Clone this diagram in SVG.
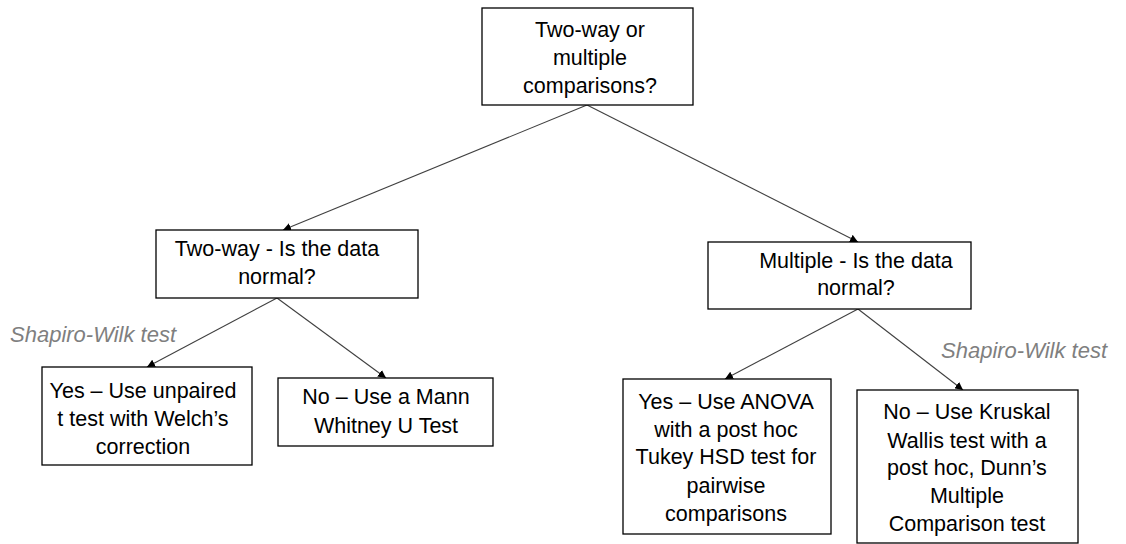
<svg xmlns="http://www.w3.org/2000/svg" width="1126" height="544" viewBox="0 0 1126 544">
<style>
.box{fill:#fff;stroke:#000;stroke-width:1.3}
.t{font-family:"Liberation Sans",Arial,sans-serif;font-size:21.5px;fill:#000;text-anchor:middle}
.lbl{font-family:"Liberation Sans",Arial,sans-serif;font-size:22px;font-style:italic;fill:#7f7f7f}
.c{stroke:#404040;stroke-width:1.1;fill:none;marker-end:url(#ah)}
</style>
<defs>
<marker id="ah" viewBox="0 0 10 10" refX="10" refY="5" markerWidth="8" markerHeight="8" markerUnits="userSpaceOnUse" orient="auto">
<path d="M0,0 L10,5 L0,10 z" fill="#000"/>
</marker>
</defs>
<rect width="1126" height="544" fill="#fff"/>
<g id="connectors">
<line class="c" x1="587" y1="105" x2="283" y2="230"/>
<line class="c" x1="587" y1="105" x2="858" y2="242"/>
<line class="c" x1="277" y1="298" x2="147" y2="367"/>
<line class="c" x1="277" y1="298" x2="386" y2="378"/>
<line class="c" x1="858" y1="309" x2="725" y2="379"/>
<line class="c" x1="858" y1="309" x2="963" y2="390"/>
</g>
<g id="root">
<rect class="box" x="482" y="8" width="211" height="97"/>
<text class="t" x="590" y="37">Two-way or</text>
<text class="t" x="590" y="65">multiple</text>
<text class="t" x="590" y="93">comparisons?</text>
</g>
<g id="twoway">
<rect class="box" x="156" y="230" width="262" height="68"/>
<text class="t" x="277" y="256">Two-way - Is the data</text>
<text class="t" x="277" y="284">normal?</text>
</g>
<g id="multiple">
<rect class="box" x="708" y="242" width="263" height="67"/>
<text class="t" x="856" y="268">Multiple - Is the data</text>
<text class="t" x="856" y="295">normal?</text>
</g>
<g id="label-left">
<text class="lbl" x="10" y="342">Shapiro-Wilk test</text>
</g>
<g id="label-right">
<text class="lbl" x="941" y="358">Shapiro-Wilk test</text>
</g>
<g id="yes-twoway">
<rect class="box" x="42" y="367" width="210" height="98"/>
<text class="t" x="143" y="398">Yes – Use unpaired</text>
<text class="t" x="143" y="426">t test with Welch’s</text>
<text class="t" x="143" y="454">correction</text>
</g>
<g id="no-twoway">
<rect class="box" x="278" y="378" width="215" height="68"/>
<text class="t" x="386" y="404">No – Use a Mann</text>
<text class="t" x="386" y="433">Whitney U Test</text>
</g>
<g id="yes-multiple">
<rect class="box" x="623" y="379" width="208" height="155"/>
<text class="t" x="726" y="409">Yes – Use ANOVA</text>
<text class="t" x="726" y="437">with a post hoc</text>
<text class="t" x="726" y="464">Tukey HSD test for</text>
<text class="t" x="726" y="493">pairwise</text>
<text class="t" x="726" y="521">comparisons</text>
</g>
<g id="no-multiple">
<rect class="box" x="857" y="390" width="221" height="153"/>
<text class="t" x="967" y="419">No – Use Kruskal</text>
<text class="t" x="967" y="448">Wallis test with a</text>
<text class="t" x="967" y="475">post hoc, Dunn’s</text>
<text class="t" x="967" y="503">Multiple</text>
<text class="t" x="967" y="531">Comparison test</text>
</g>
</svg>
